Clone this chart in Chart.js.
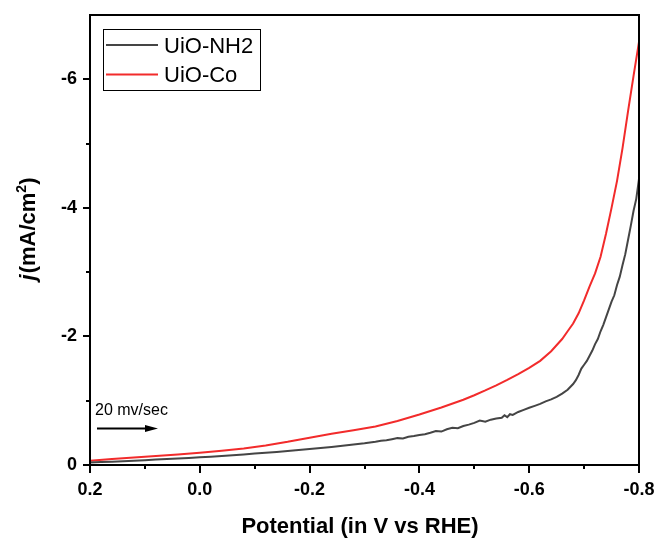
<!DOCTYPE html>
<html>
<head>
<meta charset="utf-8">
<script src="https://cdn.jsdelivr.net/npm/chart.js@4.4.1/dist/chart.umd.min.js"></script>
<style>
  html, body { margin: 0; padding: 0; background: #ffffff; }
  #wrap { width: 656px; height: 538px; position: relative; }
</style>
</head>
<body>
<div id="wrap"><canvas id="c" width="656" height="538"></canvas></div>
<script>
// ---------- data ----------
const seriesNames = ["UiO-NH2", "UiO-Co"];
const seriesColors = ["#454545", "#f22b2b"];

const potentialNH2 = [0.20,0.18,0.16,0.14,0.12,0.10,0.08,0.06,0.04,0.02,0.00,-0.02,-0.04,-0.06,-0.08,-0.10,-0.12,-0.14,-0.16,-0.18,-0.20,-0.22,-0.24,-0.26,-0.28,-0.30,-0.31,-0.32,-0.33,-0.34,-0.35,-0.36,-0.37,-0.38,-0.39,-0.40,-0.41,-0.42,-0.43,-0.44,-0.45,-0.46,-0.47,-0.48,-0.49,-0.50,-0.51,-0.52,-0.53,-0.54,-0.55,-0.555,-0.56,-0.565,-0.57,-0.58,-0.59,-0.60,-0.61,-0.62,-0.63,-0.64,-0.65,-0.66,-0.67,-0.68,-0.685,-0.69,-0.695,-0.70,-0.705,-0.71,-0.715,-0.72,-0.725,-0.73,-0.735,-0.74,-0.745,-0.75,-0.755,-0.76,-0.765,-0.77,-0.775,-0.78,-0.785,-0.79,-0.795,-0.80];
const currentNH2 = [-0.040,-0.045,-0.050,-0.058,-0.066,-0.075,-0.084,-0.093,-0.100,-0.110,-0.120,-0.130,-0.140,-0.152,-0.165,-0.178,-0.190,-0.204,-0.218,-0.233,-0.250,-0.265,-0.280,-0.298,-0.318,-0.338,-0.350,-0.362,-0.378,-0.386,-0.402,-0.418,-0.414,-0.440,-0.452,-0.468,-0.480,-0.502,-0.528,-0.520,-0.556,-0.578,-0.572,-0.606,-0.628,-0.655,-0.690,-0.672,-0.705,-0.722,-0.735,-0.775,-0.745,-0.790,-0.780,-0.825,-0.858,-0.890,-0.920,-0.950,-0.990,-1.020,-1.060,-1.110,-1.170,-1.260,-1.320,-1.400,-1.500,-1.560,-1.620,-1.700,-1.780,-1.880,-1.960,-2.080,-2.180,-2.300,-2.420,-2.540,-2.640,-2.800,-2.930,-3.110,-3.280,-3.500,-3.720,-3.950,-4.140,-4.450];

const potentialCo = [0.20,0.16,0.12,0.08,0.04,0.00,-0.04,-0.08,-0.12,-0.16,-0.20,-0.24,-0.28,-0.32,-0.36,-0.40,-0.44,-0.48,-0.50,-0.52,-0.54,-0.56,-0.58,-0.60,-0.62,-0.64,-0.66,-0.67,-0.68,-0.69,-0.70,-0.71,-0.72,-0.73,-0.74,-0.75,-0.76,-0.77,-0.78,-0.79,-0.80];
const currentCo = [-0.068,-0.092,-0.116,-0.140,-0.165,-0.192,-0.222,-0.258,-0.303,-0.360,-0.425,-0.485,-0.540,-0.600,-0.685,-0.785,-0.895,-1.015,-1.085,-1.160,-1.240,-1.325,-1.415,-1.510,-1.620,-1.770,-1.960,-2.080,-2.200,-2.360,-2.560,-2.780,-2.980,-3.240,-3.600,-4.000,-4.420,-4.930,-5.500,-6.050,-6.580];

const xMajorTicks = [0.2, 0.0, -0.2, -0.4, -0.6, -0.8];
const xMinorTicks = [0.1, -0.1, -0.3, -0.5, -0.7];
const yMajorTicks = [0, -2, -4, -6];
const yMinorTicks = [-1, -3, -5];

const xTitle = "Potential (in V vs RHE)";
const yTitleParts = ["j", "(mA/cm", "2", ")"];
const noteText = "20 mv/sec";

// ---------- chart ----------
const FONT = "'Liberation Sans', Arial, sans-serif";

function toPoints(xs, ys) { return xs.map((x, i) => ({ x: x, y: ys[i] })); }

function zeroPad(s) { s.paddingLeft = 0; s.paddingRight = 0; s.paddingTop = 0; s.paddingBottom = 0; }

const decorPlugin = {
  id: 'decor',
  afterDraw(chart) {
    const ctx = chart.ctx;
    const a = chart.chartArea;
    const xs = chart.scales.x, ys = chart.scales.y;
    ctx.save();
    // frame
    ctx.strokeStyle = '#000';
    ctx.lineWidth = 2;
    ctx.strokeRect(a.left, a.top, a.right - a.left, a.bottom - a.top);
    // ticks
    ctx.beginPath();
    xMajorTicks.forEach(v => { const p = Math.round(xs.getPixelForValue(v)); ctx.moveTo(p, a.bottom); ctx.lineTo(p, a.bottom + 8); });
    xMinorTicks.forEach(v => { const p = Math.round(xs.getPixelForValue(v)); ctx.moveTo(p, a.bottom); ctx.lineTo(p, a.bottom + 4); });
    yMajorTicks.forEach(v => { const p = Math.round(ys.getPixelForValue(v)); ctx.moveTo(a.left, p); ctx.lineTo(a.left - 7, p); });
    yMinorTicks.forEach(v => { const p = Math.round(ys.getPixelForValue(v)); ctx.moveTo(a.left, p); ctx.lineTo(a.left - 4, p); });
    ctx.stroke();

    // x title
    ctx.fillStyle = '#000';
    ctx.font = "bold 22px " + FONT;
    ctx.textAlign = 'center';
    ctx.textBaseline = 'alphabetic';
    ctx.fillText(xTitle, 360, 533);

    // y title (rotated, italic j, superscript 2)
    ctx.save();
    ctx.translate(35, 229);
    ctx.rotate(-Math.PI / 2);
    const fMain = "bold 22px " + FONT, fIt = "italic bold 22px " + FONT, fSup = "bold 14px " + FONT;
    ctx.textAlign = 'left';
    ctx.font = fIt; const w0 = ctx.measureText(yTitleParts[0]).width + 1;
    ctx.font = fMain; const w1 = ctx.measureText(yTitleParts[1]).width;
    ctx.font = fSup; const w2 = ctx.measureText(yTitleParts[2]).width;
    ctx.font = fMain; const w3 = ctx.measureText(yTitleParts[3]).width;
    let cx = -(w0 + w1 + w2 + w3) / 2;
    ctx.font = fIt; ctx.fillText(yTitleParts[0], cx, 0); cx += w0;
    ctx.font = fMain; ctx.fillText(yTitleParts[1], cx, 0); cx += w1;
    ctx.font = fSup; ctx.fillText(yTitleParts[2], cx, -9); cx += w2;
    ctx.font = fMain; ctx.fillText(yTitleParts[3], cx, 0);
    ctx.restore();

    // legend
    ctx.lineWidth = 1;
    ctx.strokeStyle = '#000';
    ctx.strokeRect(103.5, 29.5, 157, 61);
    const ly = [45, 74.5], lb = [53, 82];
    ctx.font = "22px " + FONT;
    ctx.textAlign = 'left';
    seriesNames.forEach((n, i) => {
      ctx.strokeStyle = seriesColors[i];
      ctx.lineWidth = 2;
      ctx.beginPath(); ctx.moveTo(106, ly[i]); ctx.lineTo(158, ly[i]); ctx.stroke();
      ctx.fillStyle = '#000';
      ctx.fillText(n, 164, lb[i]);
    });

    // annotation
    ctx.font = "16px " + FONT;
    ctx.fillStyle = '#000';
    ctx.fillText(noteText, 95, 415);
    ctx.strokeStyle = '#000';
    ctx.lineWidth = 2;
    ctx.beginPath(); ctx.moveTo(97, 428.5); ctx.lineTo(147, 428.5); ctx.stroke();
    ctx.beginPath(); ctx.moveTo(145, 425); ctx.lineTo(158, 428.5); ctx.lineTo(145, 432); ctx.closePath(); ctx.fill();
    ctx.restore();
  }
};

new Chart(document.getElementById('c'), {
  type: 'scatter',
  data: {
    datasets: [
      { label: seriesNames[0], data: toPoints(potentialNH2, currentNH2), showLine: true, borderColor: seriesColors[0], backgroundColor: seriesColors[0], borderWidth: 2, pointRadius: 0, tension: 0 },
      { label: seriesNames[1], data: toPoints(potentialCo, currentCo), showLine: true, borderColor: seriesColors[1], backgroundColor: seriesColors[1], borderWidth: 2, pointRadius: 0, tension: 0 }
    ]
  },
  options: {
    responsive: false,
    animation: false,
    layout: { padding: { left: 0, top: 15, right: 17, bottom: 0 } },
    plugins: { legend: { display: false }, tooltip: { enabled: false }, title: { display: false } },
    scales: {
      x: {
        type: 'linear', min: -0.8, max: 0.2, reverse: true,
        grid: { display: false, drawTicks: false },
        border: { display: false },
        ticks: {
          stepSize: 0.2, includeBounds: false, padding: 14, color: '#000', maxRotation: 0,
          font: { family: FONT, size: 18, weight: 'bold' },
          callback: v => { const r = Math.round(v * 10) / 10; return (r === 0 ? 0 : r).toFixed(1); }
        },
        afterFit: s => { s.height = 73; zeroPad(s); }
      },
      y: {
        type: 'linear', min: -7, max: 0, reverse: true,
        grid: { display: false, drawTicks: false },
        border: { display: false },
        ticks: {
          stepSize: 2, includeBounds: false, padding: 13, color: '#000',
          font: { family: FONT, size: 18, weight: 'bold' },
          callback: v => { const r = Math.round(v); return String(r === 0 ? 0 : r); }
        },
        afterFit: s => { s.width = 90; zeroPad(s); }
      }
    }
  },
  plugins: [decorPlugin]
});
</script>
</body>
</html>
